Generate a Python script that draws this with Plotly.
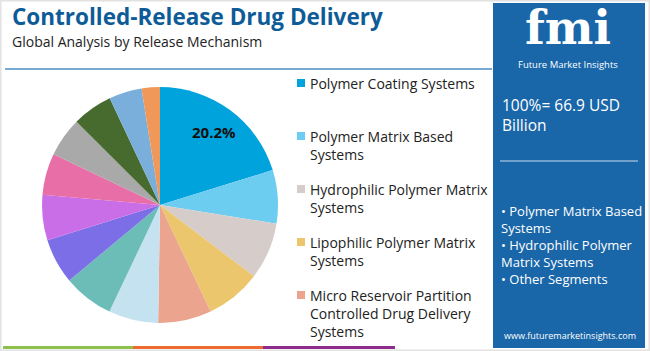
import math
import plotly.graph_objects as go

W, H = 650, 351

segments = [
    "Polymer Coating Systems",
    "Polymer Matrix Based Systems",
    "Hydrophilic Polymer Matrix Systems",
    "Lipophilic Polymer Matrix Systems",
    "Micro Reservoir Partition Controlled Drug Delivery Systems",
    "Segment 6", "Segment 7", "Segment 8", "Segment 9", "Segment 10",
    "Segment 11", "Segment 12", "Segment 13", "Segment 14",
]
shares = [20.2, 7.3, 7.8, 7.6, 7.3, 6.8, 6.9, 6.2, 6.2, 5.7, 5.4, 5.5, 4.5, 2.5]
colors = ["#00a3dc", "#6dcdf0", "#d6ccc9", "#ebc66c", "#eba58e", "#c5e2f1",
          "#6cbcb8", "#7b6ee6", "#c96ee6", "#e86ea8", "#a9a9a9", "#476a2e",
          "#7aafdc", "#f0985a"]
label_text = "20.2%"

legend_items = [
    "Polymer Coating Systems",
    "Polymer Matrix Based<br>Systems",
    "Hydrophilic Polymer Matrix<br>Systems",
    "Lipophilic Polymer Matrix<br>Systems",
    "Micro Reservoir Partition<br>Controlled Drug Delivery<br>Systems",
]
legend_y_px = [83, 136, 189, 242, 295]

title = "Controlled-Release Drug Delivery"
subtitle = "Global Analysis by Release Mechanism"
total_text = "100%= 66.9 USD<br>Billion"
bullets = "• Polymer Matrix Based<br>Systems<br>• Hydrophilic Polymer<br>Matrix Systems<br>• Other Segments"
url = "www.futuremarketinsights.com"

def py(y):
    return 1 - y / H

def px(x):
    return x / W

FONT = "Open Sans"

cx, cy, r = 160, 205, 118
fig = go.Figure(go.Pie(
    labels=segments, values=shares, sort=False, direction="clockwise",
    rotation=0, marker=dict(colors=colors, line=dict(width=0)),
    textinfo="none",
    domain=dict(x=[px(cx - r), px(cx + r)], y=[py(cy + r), py(cy - r)]),
    showlegend=False, hoverinfo="label+percent",
))

# label of largest slice, placed along its mid-angle
mid = math.radians(shares[0] / 2 / sum(shares) * 360)
lx = cx + 0.77 * r * math.sin(mid)
ly = cy - 0.77 * r * math.cos(mid)

shapes = []
shapes.append(dict(type="rect", xref="paper", yref="paper", x0=0, x1=1, y0=0, y1=1,
                   line=dict(color="#e2e2e2", width=3), fillcolor="rgba(0,0,0,0)", layer="below"))
shapes.append(dict(type="line", xref="paper", yref="paper", x0=px(5), x1=px(492), y0=py(69), y1=py(69),
                   line=dict(color="#4a8cc4", width=1.5)))
for x0, x1, c in [(3, 133, "#8dc14b"), (133, 263, "#ee6a30"), (263, 395, "#8e2c8e")]:
    shapes.append(dict(type="rect", xref="paper", yref="paper", x0=px(x0), x1=px(x1),
                       y0=py(349), y1=py(346), line=dict(width=0), fillcolor=c))
shapes.append(dict(type="rect", xref="paper", yref="paper", x0=px(493), x1=px(645),
                   y0=py(348), y1=py(3), line=dict(width=0), fillcolor="#1966a8"))
shapes.append(dict(type="line", xref="paper", yref="paper", x0=px(500), x1=px(638), y0=py(161), y1=py(161),
                   line=dict(color="#c9dcec", width=1)))
for i, y in enumerate(legend_y_px):
    shapes.append(dict(type="rect", xref="paper", yref="paper", x0=px(297), x1=px(305),
                       y0=py(y + 4), y1=py(y - 4), line=dict(width=0), fillcolor=colors[i]))

ann = []
ann.append(dict(text=label_text, x=px(lx), y=py(ly), xref="paper", yref="paper", xanchor="center", yanchor="middle",
                showarrow=False, font=dict(family=FONT, size=15, color="#111111", weight="bold")))
ann.append(dict(text=title, x=px(10), y=py(16), xref="paper", yref="paper", xanchor="left", yanchor="middle",
                showarrow=False, font=dict(family=FONT, size=22.5, color="#0e5c97", weight="bold")))
ann.append(dict(text=subtitle, x=px(10), y=py(41.5), xref="paper", yref="paper", xanchor="left", yanchor="middle",
                showarrow=False, font=dict(family=FONT, size=14, color="#222222")))
for t, y in zip(legend_items, legend_y_px):
    ann.append(dict(text=t, x=px(308), y=py(y - 11), xref="paper", yref="paper", xanchor="left", yanchor="top",
                    align="left", showarrow=False, font=dict(family=FONT, size=14, color="#222222")))
ann.append(dict(text=total_text, x=px(500), y=py(92), xref="paper", yref="paper", xanchor="left", yanchor="top",
                align="left", showarrow=False, font=dict(family=FONT, size=15.5, color="white")))
ann.append(dict(text=bullets, x=px(499), y=py(200), xref="paper", yref="paper", xanchor="left", yanchor="top",
                align="left", showarrow=False, font=dict(family=FONT, size=13, color="white")))
ann.append(dict(text=url, x=px(570), y=py(335), xref="paper", yref="paper", xanchor="center", yanchor="middle",
                showarrow=False, font=dict(family=FONT, size=9, color="white")))
ann.append(dict(text="fmi", x=px(568), y=py(57), xref="paper", yref="paper", xanchor="center", yanchor="bottom",
                showarrow=False, font=dict(family="DejaVu Serif", size=46, color="white", weight="bold")))
ann.append(dict(text="Future Market Insights", x=px(568), y=py(56), xref="paper", yref="paper", xanchor="center",
                yanchor="top", showarrow=False, font=dict(family=FONT, size=9.5, color="white")))

fig.update_layout(width=W, height=H, margin=dict(l=0, r=0, t=0, b=0),
                  paper_bgcolor="white", plot_bgcolor="white",
                  shapes=shapes, annotations=ann)
fig.write_html("out.html")
